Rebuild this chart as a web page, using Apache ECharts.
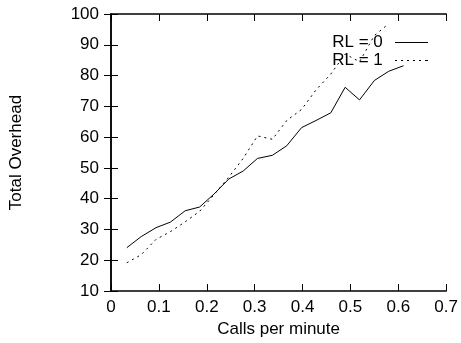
<!DOCTYPE html>
<html>
<head>
    <meta charset="utf-8">
    <title>Total Overhead</title>
    <script src="https://cdn.jsdelivr.net/npm/echarts@6/dist/echarts.min.js"></script>
    <style>
        html, body { margin: 0; padding: 0; background: #fff; }
        #chart1 { width: 461px; height: 343px; }
    </style>
</head>
<body>
<div id="chart1"></div>
<script>
    // calls per minute (x) and total overhead (y)
    var rl0X = [0.033, 0.063, 0.094, 0.124, 0.155, 0.185, 0.215, 0.246, 0.276, 0.306,
                0.337, 0.367, 0.398, 0.428, 0.459, 0.489, 0.519, 0.550, 0.580, 0.611];
    var rl0Y = [24.1, 27.7, 30.6, 32.4, 36.1, 37.3, 41.5, 46.4, 49.0, 53.1,
                54.1, 57.2, 63.1, 65.4, 67.9, 76.2, 72.1, 78.4, 81.4, 83.2];
    var rl1X = [0.033, 0.063, 0.094, 0.124, 0.155, 0.185, 0.215, 0.246, 0.276, 0.306,
                0.337, 0.367, 0.398, 0.428, 0.459, 0.489, 0.519, 0.550, 0.575];
    var rl1Y = [19.2, 21.8, 26.8, 29.3, 32.5, 35.9, 41.3, 47.0, 53.1, 60.4,
                59.3, 65.4, 69.0, 75.3, 80.5, 87.0, 84.5, 93.0, 96.2];
    var seriesNames = ['RL = 0', 'RL = 1'];

    function pairs(xs, ys) {
        var out = [];
        for (var i = 0; i < xs.length; i++) out.push([xs[i], ys[i]]);
        return out;
    }

    var font = 'Liberation Sans, Arial, Helvetica, sans-serif';
    var fs = 17;
    var tickStyle = {show: true, inside: true, length: 7, lineStyle: {color: '#000', width: 1}};
    var lineAxis = {show: true, lineStyle: {color: '#000', width: 1.5}};
    // key samples: a plain line, and a row of short dashes
    var solidIcon = 'path://M0,0h33v1h-33z';
    var dashedIcon = 'path://M0,0h2v1h-2zM6,0h2v1h-2zM12,0h2v1h-2zM18,0h2v1h-2zM24,0h2v1h-2zM30,0h3v1h-3z';

    var myChart1 = echarts.init(document.getElementById('chart1'));
    myChart1.setOption({
        animation: false,
        backgroundColor: '#fff',
        textStyle: {fontFamily: font},
        grid: {left: 110, right: 14, top: 14, bottom: 49},
        legend: {
            orient: 'vertical',
            right: 33,
            top: 34,
            padding: 0,
            align: 'right',
            itemWidth: 34,
            itemHeight: 1,
            itemGap: 1,
            data: [
                {name: seriesNames[0], icon: solidIcon},
                {name: seriesNames[1], icon: dashedIcon}
            ],
            formatter: function (name) { return name + ' '; },
            itemStyle: {color: '#000'},
            textStyle: {fontFamily: font, fontSize: fs, color: '#000', padding: [0, 2, 0, 0]}
        },
        xAxis: [{
            type: 'value', min: 0, max: 0.7, interval: 0.1,
            name: 'Calls per minute', nameLocation: 'middle', nameGap: 25,
            nameTextStyle: {fontSize: fs, color: '#000', fontFamily: font},
            axisLine: lineAxis, axisTick: tickStyle, splitLine: {show: false},
            axisLabel: {fontSize: fs, color: '#000', margin: 8, fontFamily: font}
        }, {
            type: 'value', position: 'top', min: 0, max: 0.7, interval: 0.1,
            axisLine: lineAxis, axisTick: tickStyle, splitLine: {show: false},
            axisLabel: {show: false}
        }],
        yAxis: [{
            type: 'value', min: 10, max: 100, interval: 10,
            name: 'Total Overhead', nameLocation: 'middle', nameGap: 86,
            nameTextStyle: {fontSize: fs, color: '#000', fontFamily: font},
            axisLine: lineAxis, axisTick: tickStyle, splitLine: {show: false},
            axisLabel: {fontSize: fs, color: '#000', margin: 12, fontFamily: font}
        }, {
            type: 'value', position: 'right', min: 10, max: 100, interval: 10,
            axisLine: lineAxis, axisTick: tickStyle, splitLine: {show: false},
            axisLabel: {show: false}
        }],
        series: [
            {
                name: seriesNames[0],
                type: 'line',
                symbol: 'none',
                data: pairs(rl0X, rl0Y),
                itemStyle: {color: '#000'},
                lineStyle: {color: '#000', width: 1}
            },
            {
                name: seriesNames[1],
                type: 'line',
                symbol: 'none',
                data: pairs(rl1X, rl1Y),
                itemStyle: {color: '#000'},
                lineStyle: {color: '#000', width: 1, type: [2, 4]}
            }
        ]
    });
</script>
</body>
</html>
